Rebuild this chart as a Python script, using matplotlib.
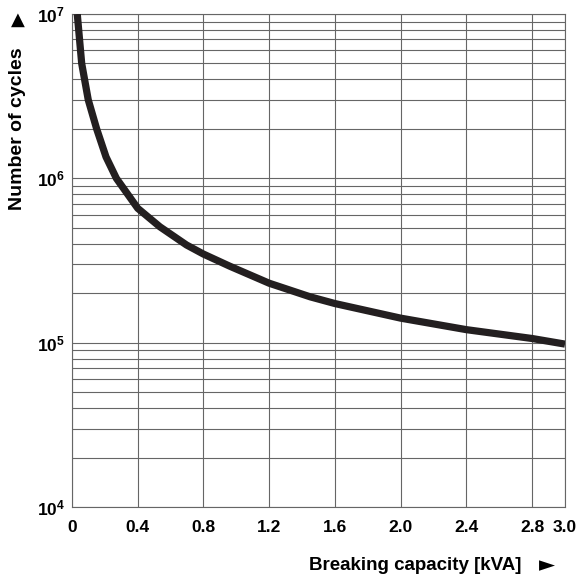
import numpy as np
import matplotlib
matplotlib.use('Agg')
import matplotlib.pyplot as plt
from matplotlib.ticker import FixedLocator, LogLocator, NullFormatter

# curve
capacity = [0.032, 0.059, 0.099, 0.15, 0.207, 0.27, 0.4, 0.535, 0.697, 0.8, 0.96, 1.2, 1.45, 1.6, 2.0, 2.4,
            2.8, 3.0]
cycles = [1.0e7, 5.0e6, 3.0e6, 2.0e6, 1.35e6, 1.0e6, 6.57e5, 5.07e5, 3.93e5, 3.46e5, 2.92e5, 2.3e5,
          1.9e5, 1.73e5, 1.41e5, 1.2e5, 1.06e5, 9.8e4]

xticks = [0, 0.4, 0.8, 1.2, 1.6, 2.0, 2.4, 2.8, 3.0]
xticklabels = ['0', '0.4', '0.8', '1.2', '1.6', '2.0', '2.4', '2.8', '3.0']
yticks = [1e4, 1e5, 1e6, 1e7]
yticklabels = [r'$\mathbf{10^{4}}$', r'$\mathbf{10^{5}}$', r'$\mathbf{10^{6}}$', r'$\mathbf{10^{7}}$']

plt.rcParams['font.family'] = ['Liberation Sans', 'DejaVu Sans']
plt.rcParams['mathtext.fontset'] = 'custom'
plt.rcParams['mathtext.rm'] = 'Liberation Sans'
plt.rcParams['mathtext.bf'] = 'Liberation Sans:bold'

fig = plt.figure(figsize=(5.79, 5.78), dpi=100)
ax = fig.add_axes([72 / 579, 1 - 507 / 578, (565 - 72) / 579, (507 - 14) / 578])

ax.plot(capacity, cycles, color='#231f20', linewidth=5.2, solid_capstyle='butt',
        solid_joinstyle='round', zorder=3)

ax.set_yscale('log')
ax.set_xlim(0, 3.0)
ax.set_ylim(1e4, 1e7)

ax.xaxis.set_major_locator(FixedLocator(xticks))
ax.set_xticklabels(xticklabels, fontsize=12.5, fontweight='bold')
ax.yaxis.set_major_locator(FixedLocator(yticks))
ax.set_yticklabels(yticklabels, fontsize=12.5)
ax.yaxis.set_minor_locator(LogLocator(base=10, subs=np.arange(2, 10)))
ax.yaxis.set_minor_formatter(NullFormatter())

ax.tick_params(axis='both', which='both', length=0)
ax.tick_params(axis='x', pad=9)
ax.tick_params(axis='y', pad=5)

ax.grid(True, which='major', color='#666666', linewidth=0.8)
ax.grid(True, which='minor', axis='y', color='#666666', linewidth=0.8)
for s in ax.spines.values():
    s.set_color('#666666')
    s.set_linewidth(0.8)

fig.text(309 / 579, 1 - 565 / 578, 'Breaking capacity [kVA]', fontsize=13.5, fontweight='bold',
         ha='left', va='center')
fig.text(547 / 579, 1 - 565 / 578, '\u25ba', fontsize=15, ha='center', va='center',
         family=['DejaVu Sans'])
fig.text(18 / 579, 1 - 129 / 578, 'Number of cycles', fontsize=14, fontweight='bold',
         rotation=90, ha='center', va='center')
fig.text(17.5 / 579, 1 - 20 / 578, '\u25b2', fontsize=13, ha='center', va='center',
         family=['DejaVu Sans'])

fig.savefig('out.png', dpi=100)
